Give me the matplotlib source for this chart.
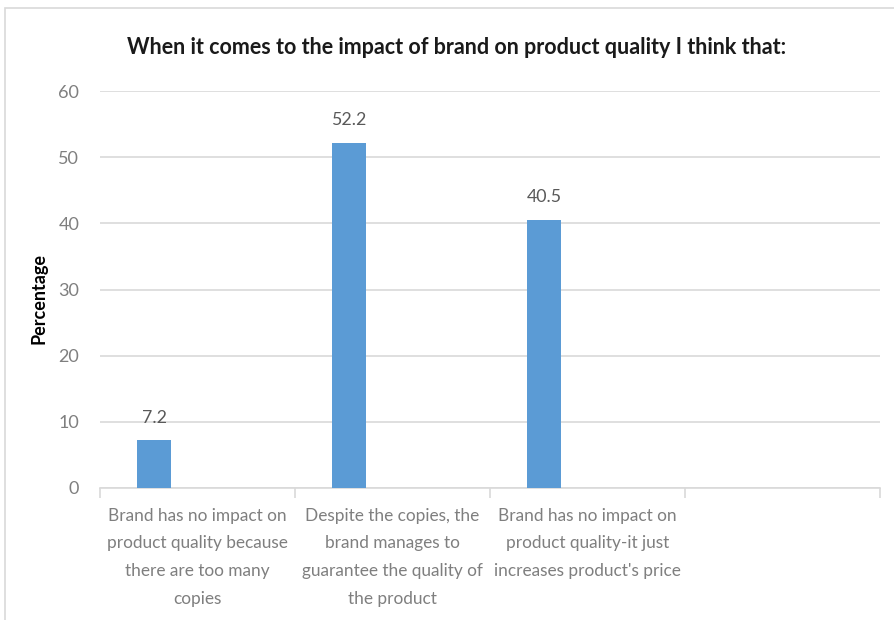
import matplotlib
matplotlib.use("Agg")
import matplotlib.pyplot as plt
from matplotlib.patches import Rectangle

categories = [
    "Brand has no impact on\nproduct quality because\nthere are too many\ncopies",
    "Despite the copies, the\nbrand manages to\nguarantee the quality of\nthe product",
    "Brand has no impact on\nproduct quality-it just\nincreases product's price",
    "",
]
values = [7.2, 52.2, 40.5, None]
yticks = [0, 10, 20, 30, 40, 50, 60]

plt.rcParams['font.family'] = ['Lato', 'DejaVu Sans']
gray = "#7f7f7f"
grid = "#d9d9d9"
bar_color = "#5b9bd5"

W, H = 895, 620
fig = plt.figure(figsize=(W / 100, H / 100), dpi=100)

# outer chart border (partially cropped)
fig.patches.append(Rectangle((5 / W, -0.05), 1.1, (H - 8) / H + 0.05, transform=fig.transFigure,
                             fill=False, edgecolor="#d9d9d9", linewidth=1.2))

ax = fig.add_axes([100 / W, 1 - 488 / H, 780 / W, (488 - 91) / H])
n = len(categories)
ax.set_xlim(-0.5, n - 0.5)
ax.set_ylim(0, 60)

offset = -0.223
bw = 0.174
for i, v in enumerate(values):
    if v is None:
        continue
    ax.bar(i + offset, v, width=bw, color=bar_color, zorder=3)
    ax.text(i + offset, v + 2.2, f"{v}", ha="center", va="bottom", fontsize=12.8, color="#595959")

ax.set_yticks(yticks)
ax.set_yticklabels([str(t) for t in yticks], fontsize=13, color=gray)
ax.yaxis.grid(True, color=grid, linewidth=1.2, zorder=0)
ax.tick_params(axis="y", length=0, pad=15)

ax.set_xticks([i - 0.5 for i in range(n + 1)])
ax.set_xticklabels([])
ax.tick_params(axis="x", length=7, color=grid, width=1.2)
for i, lab in enumerate(categories):
    ax.text(i, -3.0, lab, ha="center", va="top", fontsize=12.4, color=gray,
            linespacing=1.89, transform=ax.transData)

for s in ["top", "right", "left"]:
    ax.spines[s].set_visible(False)
ax.spines["bottom"].set_color(grid)
ax.spines["bottom"].set_linewidth(1.2)

ax.set_ylabel("Percentage", fontsize=13, fontweight="bold", color="black", labelpad=12)
ax.yaxis.set_label_coords(-52 / 780, (488 - 298) / (488 - 91))

fig.text(457 / W, 1 - 47 / H, "When it comes to the impact of brand on product quality I think that:",
         ha="center", va="center", fontsize=15.5, fontweight="bold", color="#1a1a1a")

fig.savefig("out.png", dpi=100)
